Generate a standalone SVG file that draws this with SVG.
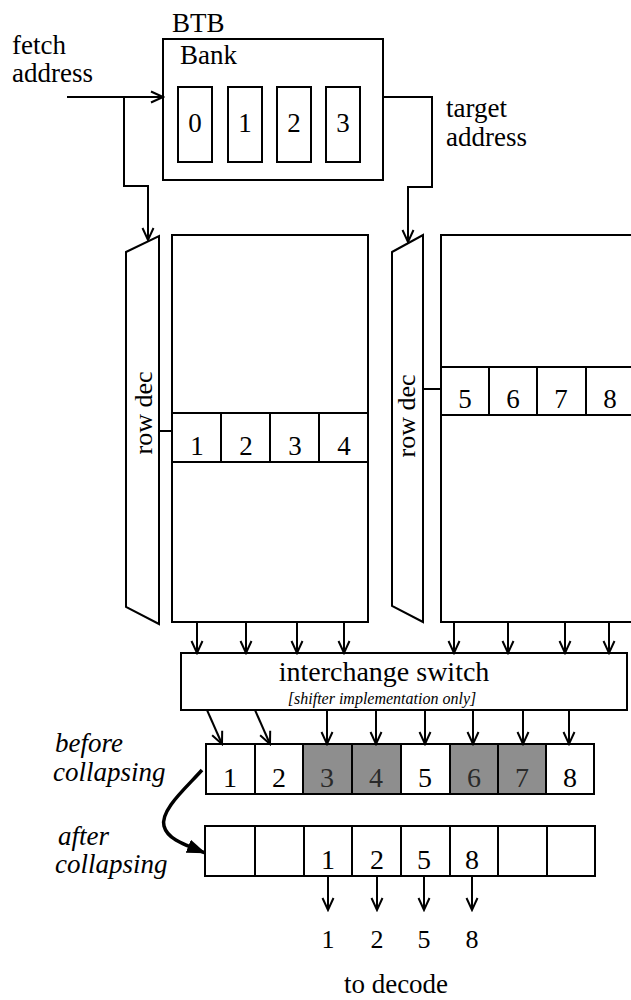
<svg xmlns="http://www.w3.org/2000/svg" width="631" height="1000" viewBox="0 0 631 1000">
<style>
  .box { fill: #fff; stroke: #000; stroke-width: 2; }
  .ln { fill: none; stroke: #000; stroke-width: 2; }
  text { font-family: 'Liberation Serif', 'DejaVu Serif', serif; fill: #000; }
  .t { font-size: 27px; }
  .d { font-size: 27px; text-anchor: middle; }
  .i { font-style: italic; font-size: 27px; }
  .sh { fill: #8e8e8e; stroke: #000; stroke-width: 2; }
</style>
<defs>
  <marker id="ar" markerUnits="userSpaceOnUse" markerWidth="16" markerHeight="14" refX="14" refY="7" orient="auto" viewBox="0 0 16 14">
    <path d="M2,1.5 L14,7 L2,12.5" fill="none" stroke="#000" stroke-width="2"/>
  </marker>
  <marker id="fa" markerUnits="userSpaceOnUse" markerWidth="20" markerHeight="16" refX="18" refY="8" orient="auto" viewBox="0 0 20 16">
    <path d="M0,1 L19,8 L0,15 Z" fill="#000"/>
  </marker>
</defs>

<g id="btb">
  <text class="t" x="172" y="32">BTB</text>
  <rect class="box" x="163" y="39" width="220" height="141"/>
  <text class="t" x="180" y="64">Bank</text>
  <rect class="box" x="178" y="87" width="34" height="75"/>
  <rect class="box" x="228" y="87" width="34" height="75"/>
  <rect class="box" x="277" y="87" width="34" height="75"/>
  <rect class="box" x="326" y="87" width="34" height="75"/>
  <text class="d" x="195" y="132">0</text>
  <text class="d" x="245" y="132">1</text>
  <text class="d" x="294" y="132">2</text>
  <text class="d" x="343" y="132">3</text>
</g>

<g id="labels-top">
  <text class="t" x="12" y="54">fetch</text>
  <text class="t" x="12" y="82">address</text>
  <text class="t" x="446" y="117">target</text>
  <text class="t" x="446" y="146">address</text>
</g>

<g id="rowdec1">
  <polygon class="box" points="126,252 159,236 159,624 126,607"/>
  <text class="t" text-anchor="middle" style="font-size:26px" transform="translate(152,413) rotate(-90)">row dec</text>
</g>

<g id="array1">
  <rect class="box" x="172" y="235" width="196" height="387"/>
  <rect class="box" x="172" y="413" width="196" height="49"/>
  <line class="ln" x1="221" y1="413" x2="221" y2="462"/>
  <line class="ln" x1="270" y1="413" x2="270" y2="462"/>
  <line class="ln" x1="319" y1="413" x2="319" y2="462"/>
  <text class="d" x="197" y="455">1</text>
  <text class="d" x="246" y="455">2</text>
  <text class="d" x="295" y="455">3</text>
  <text class="d" x="344" y="455">4</text>
</g>

<g id="rowdec2">
  <polygon class="box" points="392,252 423,235 423,622 392,606"/>
  <text class="t" text-anchor="middle" style="font-size:26px" transform="translate(415,416) rotate(-90)">row dec</text>
</g>

<g id="array2">
  <rect class="box" x="441" y="235" width="240" height="387"/>
  <rect class="box" x="441" y="367" width="240" height="48"/>
  <line class="ln" x1="489" y1="367" x2="489" y2="415"/>
  <line class="ln" x1="537" y1="367" x2="537" y2="415"/>
  <line class="ln" x1="586" y1="367" x2="586" y2="415"/>
  <line class="ln" x1="635" y1="367" x2="635" y2="415"/>
  <text class="d" x="465" y="408">5</text>
  <text class="d" x="513" y="408">6</text>
  <text class="d" x="561" y="408">7</text>
  <text class="d" x="610" y="408">8</text>
</g>

<g id="switch">
  <rect class="box" x="181" y="653" width="446" height="57"/>
  <text class="t" x="384" y="681" text-anchor="middle" style="font-size:28px">interchange switch</text>
  <text class="i" x="382" y="704" text-anchor="middle" style="font-size:16px">[shifter implementation only]</text>
</g>

<g id="before-row">
  <rect class="box" x="206" y="744" width="49" height="50"/>
  <rect class="box" x="255" y="744" width="48" height="50"/>
  <rect class="sh" x="303" y="744" width="49" height="50"/>
  <rect class="sh" x="352" y="744" width="49" height="50"/>
  <rect class="box" x="401" y="744" width="49" height="50"/>
  <rect class="sh" x="450" y="744" width="48" height="50"/>
  <rect class="sh" x="498" y="744" width="48" height="50"/>
  <rect class="box" x="546" y="744" width="48" height="50"/>
  <text class="d" x="230" y="787" style="font-size:28px">1</text>
  <text class="d" x="279" y="787" style="font-size:28px">2</text>
  <text class="d" x="327" y="787" style="font-size:28px;fill:#2a2a2a">3</text>
  <text class="d" x="376" y="787" style="font-size:28px;fill:#2a2a2a">4</text>
  <text class="d" x="425" y="787" style="font-size:28px">5</text>
  <text class="d" x="474" y="787" style="font-size:28px;fill:#2a2a2a">6</text>
  <text class="d" x="522" y="787" style="font-size:28px;fill:#2a2a2a">7</text>
  <text class="d" x="570" y="787" style="font-size:28px">8</text>
</g>

<g id="before-label">
  <text class="i" x="55" y="752">before</text>
  <text class="i" x="53" y="781">collapsing</text>
</g>

<g id="after-label">
  <text class="i" x="58" y="845">after</text>
  <text class="i" x="55" y="873">collapsing</text>
</g>

<g id="after-row">
  <rect class="box" x="205" y="826" width="50" height="50"/>
  <rect class="box" x="255" y="826" width="49" height="50"/>
  <rect class="box" x="304" y="826" width="48" height="50"/>
  <rect class="box" x="352" y="826" width="49" height="50"/>
  <rect class="box" x="401" y="826" width="49" height="50"/>
  <rect class="box" x="450" y="826" width="48" height="50"/>
  <rect class="box" x="498" y="826" width="49" height="50"/>
  <rect class="box" x="547" y="826" width="48" height="50"/>
  <text class="d" x="328" y="869" style="font-size:28px">1</text>
  <text class="d" x="377" y="869" style="font-size:28px">2</text>
  <text class="d" x="424" y="869" style="font-size:28px">5</text>
  <text class="d" x="472" y="869" style="font-size:28px">8</text>
</g>

<g id="output">
  <text class="d" x="328" y="948" style="font-size:26px">1</text>
  <text class="d" x="377" y="948" style="font-size:26px">2</text>
  <text class="d" x="424" y="948" style="font-size:26px">5</text>
  <text class="d" x="472" y="948" style="font-size:26px">8</text>
  <text class="d" x="396" y="993">to decode</text>
</g>

<g id="connectors">
  <line class="ln" x1="67" y1="97" x2="163" y2="97" marker-end="url(#ar)"/>
  <polyline class="ln" points="124,97 124,186 148,186 148,240" marker-end="url(#ar)"/>
  <polyline class="ln" points="383,97 432,97 432,187 408,187 408,242" marker-end="url(#ar)"/>
  <line class="ln" x1="159" y1="431" x2="172" y2="431"/>
  <line class="ln" x1="423" y1="389" x2="441" y2="389"/>

  <line class="ln" x1="197" y1="622" x2="197" y2="653" marker-end="url(#ar)"/>
  <line class="ln" x1="246" y1="622" x2="246" y2="653" marker-end="url(#ar)"/>
  <line class="ln" x1="297" y1="622" x2="297" y2="653" marker-end="url(#ar)"/>
  <line class="ln" x1="344" y1="622" x2="344" y2="653" marker-end="url(#ar)"/>
  <line class="ln" x1="454" y1="622" x2="454" y2="653" marker-end="url(#ar)"/>
  <line class="ln" x1="508" y1="622" x2="508" y2="653" marker-end="url(#ar)"/>
  <line class="ln" x1="565" y1="622" x2="565" y2="653" marker-end="url(#ar)"/>
  <line class="ln" x1="609" y1="622" x2="609" y2="653" marker-end="url(#ar)"/>

  <line class="ln" x1="207" y1="710" x2="222" y2="744" marker-end="url(#ar)"/>
  <line class="ln" x1="255" y1="710" x2="270" y2="744" marker-end="url(#ar)"/>
  <line class="ln" x1="327" y1="710" x2="327" y2="744" marker-end="url(#ar)"/>
  <line class="ln" x1="376" y1="710" x2="376" y2="744" marker-end="url(#ar)"/>
  <line class="ln" x1="425" y1="710" x2="425" y2="744" marker-end="url(#ar)"/>
  <line class="ln" x1="473" y1="710" x2="473" y2="744" marker-end="url(#ar)"/>
  <line class="ln" x1="523" y1="710" x2="523" y2="744" marker-end="url(#ar)"/>
  <line class="ln" x1="569" y1="710" x2="569" y2="744" marker-end="url(#ar)"/>

  <path d="M202,770 C186,788 160,810 164,826 C167,838 180,843 205,853" fill="none" stroke="#000" stroke-width="3.5" marker-end="url(#fa)"/>

  <line class="ln" x1="328" y1="876" x2="328" y2="910" marker-end="url(#ar)"/>
  <line class="ln" x1="377" y1="876" x2="377" y2="910" marker-end="url(#ar)"/>
  <line class="ln" x1="424" y1="876" x2="424" y2="910" marker-end="url(#ar)"/>
  <line class="ln" x1="472" y1="876" x2="472" y2="910" marker-end="url(#ar)"/>
</g>
</svg>
